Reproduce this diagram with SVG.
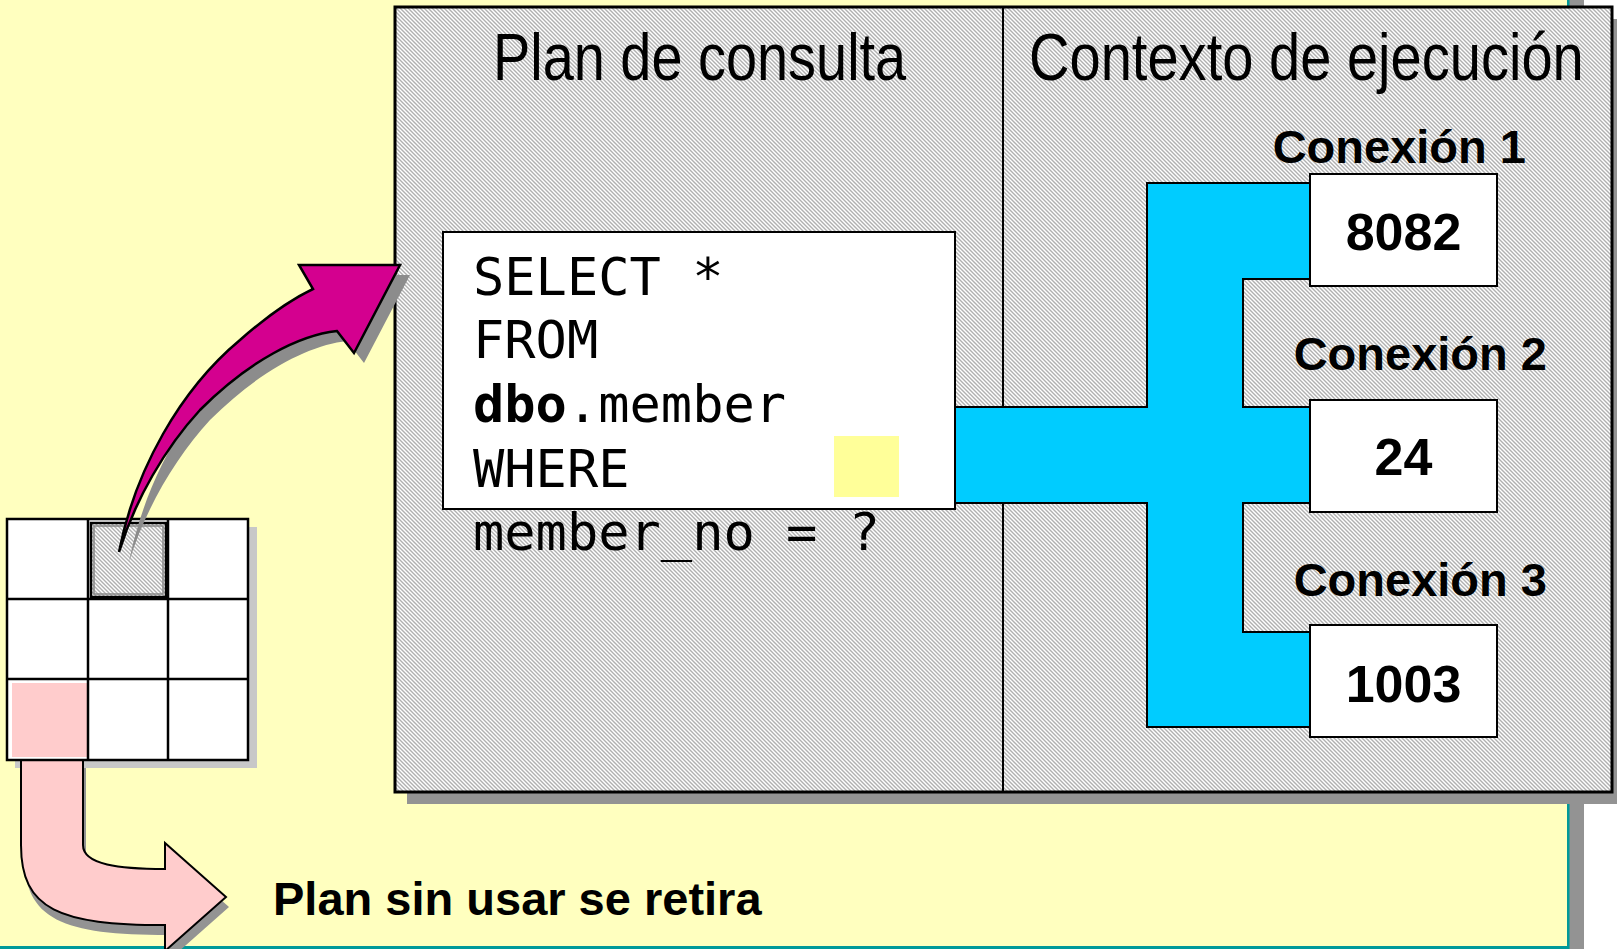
<svg xmlns="http://www.w3.org/2000/svg" width="1617" height="949" viewBox="0 0 1617 949">
<style>
.title{font-family:"Liberation Sans",Arial,sans-serif;font-size:67px;fill:#000}
.lbl{font-family:"Liberation Sans",Arial,sans-serif;font-weight:bold;font-size:47px;fill:#000}
.num{font-family:"Liberation Sans",Arial,sans-serif;font-weight:bold;font-size:52px;fill:#000;text-anchor:middle}
.code{font-family:"DejaVu Sans Mono","Liberation Mono",monospace;font-size:52px;fill:#000}
.box{fill:#fff;stroke:#000;stroke-width:2}
.cell{fill:none;stroke:#000;stroke-width:2.5}
</style>
<defs>
<pattern id="hatch" width="4" height="4" patternUnits="userSpaceOnUse">
<rect width="4" height="4" fill="#fff"/>
<path d="M0,0 L4,4 M-1,3 L1,5 M3,-1 L5,1" stroke="#b0b0b0" stroke-width="1.4"/>
</pattern>
<path id="magArrow" d="M119,552 C135,470 180,390 240,340 C265,318 290,300 313,289 L299,265 L400,265 L354,353 L337,331 C300,335 250,360 200,410 C165,448 135,500 119,552 Z"/>
<path id="pinkArrow" d="M21,758 L21,845 C21,910 60,925 165,925 L165,951 L226,897 L165,843 L165,869 C120,869 83,865 83,845 L83,758 Z"/>
</defs>

<g id="background">
<rect x="0" y="0" width="1617" height="949" fill="#fff"/>
<rect x="1569" y="0" width="15" height="949" fill="#939393"/>
<rect x="0" y="0" width="1567" height="946" fill="#FFFFBF"/>
<rect x="1567" y="0" width="2.5" height="949" fill="#009999"/>
<rect x="0" y="946" width="1569" height="3" fill="#009999"/>
</g>

<g id="panel">
<rect x="407" y="19" width="1217" height="785" fill="#939393"/>
<rect x="395" y="7" width="1217" height="785" fill="url(#hatch)" stroke="#000" stroke-width="3"/>
<line x1="1003" y1="7" x2="1003" y2="792" stroke="#000" stroke-width="2"/>
<text class="title" transform="translate(493,80) scale(0.834,1)">Plan de consulta</text>
<text class="title" transform="translate(1029,80) scale(0.837,1)">Contexto de ejecución</text>
</g>

<g id="connectors">
<path d="M955,407 L1147,407 L1147,183 L1310,183 L1310,279 L1243,279 L1243,407 L1310,407 L1310,503 L1243,503 L1243,632 L1310,632 L1310,727 L1147,727 L1147,503 L955,503 Z" fill="#00CCFF" stroke="#000" stroke-width="2"/>
</g>

<g id="query-plan">
<rect class="box" x="443" y="232" width="512" height="277"/>
<rect x="834" y="436" width="65" height="61" fill="#FFFF99"/>
<text class="code" x="473" y="295" xml:space="preserve">SELECT *</text>
<text class="code" x="473" y="358">FROM</text>
<text class="code" x="473" y="422"><tspan font-weight="bold">dbo</tspan>.member</text>
<text class="code" x="473" y="487">WHERE</text>
<text class="code" x="473" y="550" xml:space="preserve">member_no = ?</text>
</g>

<g id="conn1">
<text class="lbl" x="1526" y="163" text-anchor="end">Conexión 1</text>
<rect class="box" x="1310" y="174" width="187" height="112"/>
<text class="num" x="1403.5" y="250">8082</text>
</g>
<g id="conn2">
<text class="lbl" x="1547" y="370" text-anchor="end">Conexión 2</text>
<rect class="box" x="1310" y="400" width="187" height="112"/>
<text class="num" x="1403.5" y="475">24</text>
</g>
<g id="conn3">
<text class="lbl" x="1547" y="596" text-anchor="end">Conexión 3</text>
<rect class="box" x="1310" y="625" width="187" height="112"/>
<text class="num" x="1403.5" y="702">1003</text>
</g>

<g id="cache-grid">
<rect x="15" y="527" width="242" height="241" fill="#C8C8C8"/>
<use href="#pinkArrow" transform="translate(3,10)" fill="#939393"/>
<use href="#pinkArrow" fill="#FFCCCC" stroke="#000" stroke-width="2"/>
<rect x="7" y="519" width="241" height="241" fill="#fff"/>
<rect x="12" y="683" width="75" height="74" fill="#FFCCCC"/>
<rect x="91" y="523" width="75" height="74" fill="url(#hatch)" stroke="#000" stroke-width="2.5"/>
<rect x="94" y="526" width="69" height="68" fill="none" stroke="#888" stroke-width="1.5"/>
<rect class="cell" x="7" y="519" width="241" height="241"/>
<line class="cell" x1="88" y1="519" x2="88" y2="760"/>
<line class="cell" x1="168" y1="519" x2="168" y2="760"/>
<line class="cell" x1="7" y1="599" x2="248" y2="599"/>
<line class="cell" x1="7" y1="679" x2="248" y2="679"/>
</g>

<g id="load-arrow">
<use href="#magArrow" transform="translate(10,10)" fill="#8C8C8C"/>
<use href="#magArrow" fill="#D4008F" stroke="#000" stroke-width="2.5"/>
</g>

<g id="retire-label">
<text class="lbl" x="273" y="915" font-size="48">Plan sin usar se retira</text>
</g>
</svg>
